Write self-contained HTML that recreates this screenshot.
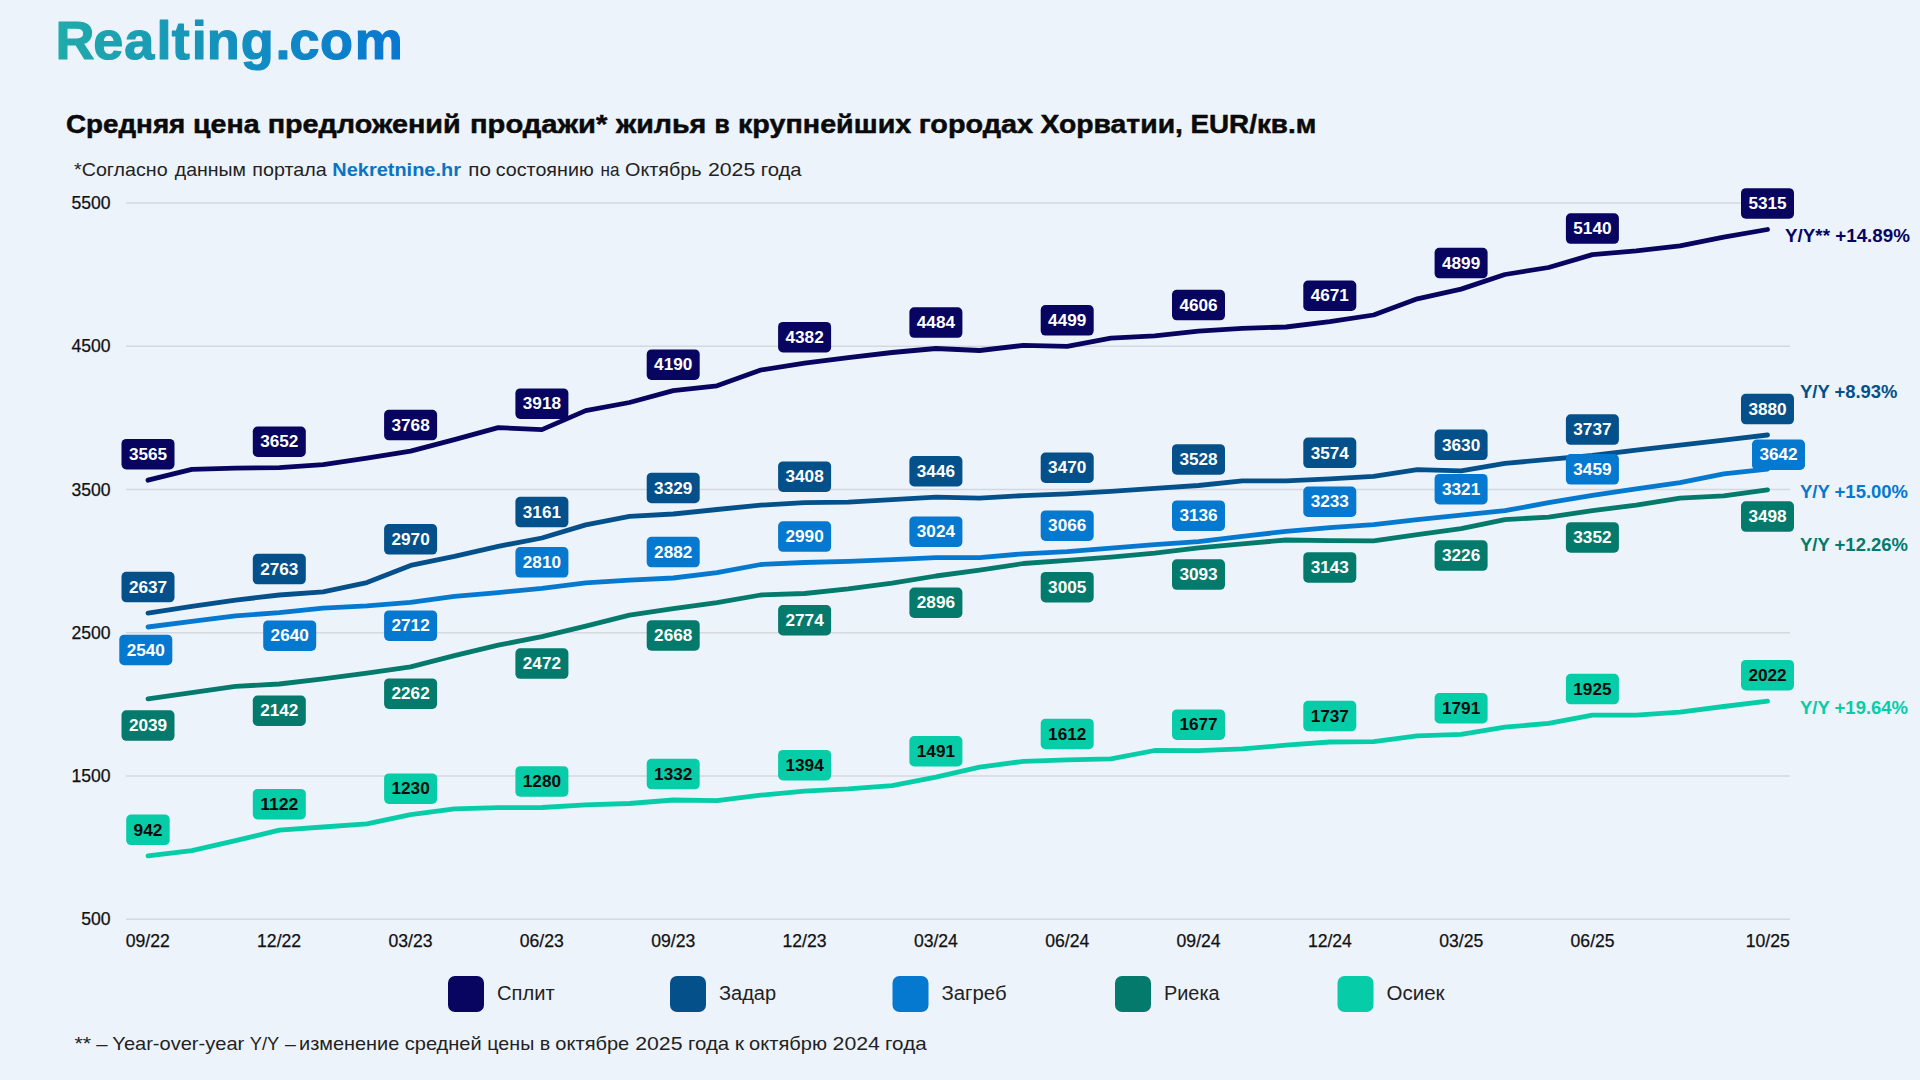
<!DOCTYPE html>
<html lang="ru"><head><meta charset="utf-8"><title>Realting.com</title>
<style>
html,body{margin:0;padding:0;background:#edf3fb;}
body{width:1920px;height:1080px;overflow:hidden;}
svg{display:block;}
text{font-family:"Liberation Sans",sans-serif;}
.ax{font-size:17.6px;fill:#111111;stroke:#111111;stroke-width:0.25px;}
.bd{font-size:16.2px;font-weight:bold;text-anchor:middle;}
.yy{font-size:17.5px;font-weight:bold;}
.lg{font-size:20px;fill:#222222;}
</style></head><body>
<svg width="1920" height="1080" viewBox="0 0 1920 1080">
<defs><linearGradient id="lg1" gradientUnits="userSpaceOnUse" x1="60" y1="0" x2="400" y2="0"><stop offset="0" stop-color="#20aaaa"/><stop offset="1" stop-color="#0877d2"/></linearGradient></defs>
<rect x="0" y="0" width="1920" height="1080" fill="#edf3fb"/>
<text x="55.6 93.3 124.2 156.6 171.8 191.7 206.8 240.8 275.6 289.6 320.0 354.7" y="59.2" font-size="54.0" font-weight="bold" fill="url(#lg1)" stroke="url(#lg1)" stroke-width="1.2" stroke-linejoin="round">Realting.com</text>
<text x="66.00" y="133.0" font-size="26" font-weight="bold" fill="#0a0a0a" textLength="119.30" lengthAdjust="spacingAndGlyphs" stroke="#0a0a0a" stroke-width="0.5" stroke-linejoin="round">Средняя</text>
<text x="193.00" y="133.0" font-size="26" font-weight="bold" fill="#0a0a0a" textLength="66.60" lengthAdjust="spacingAndGlyphs" stroke="#0a0a0a" stroke-width="0.5" stroke-linejoin="round">цена</text>
<text x="267.70" y="133.0" font-size="26" font-weight="bold" fill="#0a0a0a" textLength="192.90" lengthAdjust="spacingAndGlyphs" stroke="#0a0a0a" stroke-width="0.5" stroke-linejoin="round">предложений</text>
<text x="470.03" y="133.0" font-size="26" font-weight="bold" fill="#0a0a0a" textLength="137.34" lengthAdjust="spacingAndGlyphs" stroke="#0a0a0a" stroke-width="0.5" stroke-linejoin="round">продажи*</text>
<text x="616.00" y="133.0" font-size="26" font-weight="bold" fill="#0a0a0a" textLength="90.30" lengthAdjust="spacingAndGlyphs" stroke="#0a0a0a" stroke-width="0.5" stroke-linejoin="round">жилья</text>
<text x="714.40" y="133.0" font-size="26" font-weight="bold" fill="#0a0a0a" textLength="15.20" lengthAdjust="spacingAndGlyphs" stroke="#0a0a0a" stroke-width="0.5" stroke-linejoin="round">в</text>
<text x="738.00" y="133.0" font-size="26" font-weight="bold" fill="#0a0a0a" textLength="173.30" lengthAdjust="spacingAndGlyphs" stroke="#0a0a0a" stroke-width="0.5" stroke-linejoin="round">крупнейших</text>
<text x="918.70" y="133.0" font-size="26" font-weight="bold" fill="#0a0a0a" textLength="114.30" lengthAdjust="spacingAndGlyphs" stroke="#0a0a0a" stroke-width="0.5" stroke-linejoin="round">городах</text>
<text x="1040.40" y="133.0" font-size="26" font-weight="bold" fill="#0a0a0a" textLength="142.60" lengthAdjust="spacingAndGlyphs" stroke="#0a0a0a" stroke-width="0.5" stroke-linejoin="round">Хорватии,</text>
<text x="1190.40" y="133.0" font-size="26" font-weight="bold" fill="#0a0a0a" textLength="125.90" lengthAdjust="spacingAndGlyphs" stroke="#0a0a0a" stroke-width="0.5" stroke-linejoin="round">EUR/кв.м</text>
<text x="74.05" y="175.5" font-size="19" font-weight="normal" fill="#222222" textLength="93.60" lengthAdjust="spacingAndGlyphs">*Согласно</text>
<text x="174.75" y="175.5" font-size="19" font-weight="normal" fill="#222222" textLength="71.20" lengthAdjust="spacingAndGlyphs">данным</text>
<text x="252.35" y="175.5" font-size="19" font-weight="normal" fill="#222222" textLength="74.30" lengthAdjust="spacingAndGlyphs">портала</text>
<text x="332.35" y="175.5" font-size="19" font-weight="bold" fill="#0a74c4" textLength="128.60" lengthAdjust="spacingAndGlyphs">Nekretnine.hr</text>
<text x="468.35" y="175.5" font-size="19" font-weight="normal" fill="#222222" textLength="22.60" lengthAdjust="spacingAndGlyphs">по</text>
<text x="495.75" y="175.5" font-size="19" font-weight="normal" fill="#222222" textLength="97.90" lengthAdjust="spacingAndGlyphs">состоянию</text>
<text x="600.52" y="175.5" font-size="19" font-weight="normal" fill="#222222" textLength="18.95" lengthAdjust="spacingAndGlyphs">на</text>
<text x="625.05" y="175.5" font-size="19" font-weight="normal" fill="#222222" textLength="76.60" lengthAdjust="spacingAndGlyphs">Октябрь</text>
<text x="707.98" y="175.5" font-size="19" font-weight="normal" fill="#222222" textLength="47.33" lengthAdjust="spacingAndGlyphs">2025</text>
<text x="760.75" y="175.5" font-size="19" font-weight="normal" fill="#222222" textLength="40.90" lengthAdjust="spacingAndGlyphs">года</text>
<text x="74.57" y="1050.0" font-size="19" font-weight="normal" fill="#222222" textLength="16.57" lengthAdjust="spacingAndGlyphs">**</text>
<text x="96.35" y="1050.0" font-size="19" font-weight="normal" fill="#222222" textLength="11.30" lengthAdjust="spacingAndGlyphs">–</text>
<text x="112.35" y="1050.0" font-size="19" font-weight="normal" fill="#222222" textLength="131.90" lengthAdjust="spacingAndGlyphs">Year-over-year</text>
<text x="249.75" y="1050.0" font-size="19" font-weight="normal" fill="#222222" textLength="29.50" lengthAdjust="spacingAndGlyphs">Y/Y</text>
<text x="285.05" y="1050.0" font-size="19" font-weight="normal" fill="#222222" textLength="10.90" lengthAdjust="spacingAndGlyphs">–</text>
<text x="299.05" y="1050.0" font-size="19" font-weight="normal" fill="#222222" textLength="100.20" lengthAdjust="spacingAndGlyphs">изменение</text>
<text x="404.75" y="1050.0" font-size="19" font-weight="normal" fill="#222222" textLength="76.90" lengthAdjust="spacingAndGlyphs">средней</text>
<text x="487.35" y="1050.0" font-size="19" font-weight="normal" fill="#222222" textLength="46.90" lengthAdjust="spacingAndGlyphs">цены</text>
<text x="539.75" y="1050.0" font-size="19" font-weight="normal" fill="#222222" textLength="10.50" lengthAdjust="spacingAndGlyphs">в</text>
<text x="555.35" y="1050.0" font-size="19" font-weight="normal" fill="#222222" textLength="73.90" lengthAdjust="spacingAndGlyphs">октябре</text>
<text x="635.18" y="1050.0" font-size="19" font-weight="normal" fill="#222222" textLength="47.33" lengthAdjust="spacingAndGlyphs">2025</text>
<text x="688.05" y="1050.0" font-size="19" font-weight="normal" fill="#222222" textLength="41.20" lengthAdjust="spacingAndGlyphs">года</text>
<text x="734.85" y="1050.0" font-size="19" font-weight="normal" fill="#222222" textLength="9.31" lengthAdjust="spacingAndGlyphs">к</text>
<text x="749.05" y="1050.0" font-size="19" font-weight="normal" fill="#222222" textLength="77.90" lengthAdjust="spacingAndGlyphs">октябрю</text>
<text x="832.63" y="1050.0" font-size="19" font-weight="normal" fill="#222222" textLength="47.33" lengthAdjust="spacingAndGlyphs">2024</text>
<text x="885.05" y="1050.0" font-size="19" font-weight="normal" fill="#222222" textLength="41.60" lengthAdjust="spacingAndGlyphs">года</text>
<line x1="126" y1="203.0" x2="1790" y2="203.0" stroke="#d5d8dd" stroke-width="1.4"/>
<text class="ax" x="110.6" y="209.2" text-anchor="end">5500</text>
<line x1="126" y1="346.2" x2="1790" y2="346.2" stroke="#d5d8dd" stroke-width="1.4"/>
<text class="ax" x="110.6" y="352.4" text-anchor="end">4500</text>
<line x1="126" y1="489.5" x2="1790" y2="489.5" stroke="#d5d8dd" stroke-width="1.4"/>
<text class="ax" x="110.6" y="495.7" text-anchor="end">3500</text>
<line x1="126" y1="632.7" x2="1790" y2="632.7" stroke="#d5d8dd" stroke-width="1.4"/>
<text class="ax" x="110.6" y="638.9" text-anchor="end">2500</text>
<line x1="126" y1="776.0" x2="1790" y2="776.0" stroke="#d5d8dd" stroke-width="1.4"/>
<text class="ax" x="110.6" y="782.2" text-anchor="end">1500</text>
<line x1="126" y1="919.2" x2="1790" y2="919.2" stroke="#d5d8dd" stroke-width="1.4"/>
<text class="ax" x="110.6" y="925.4" text-anchor="end">500</text>
<text class="ax" x="147.8" y="947" text-anchor="middle">09/22</text>
<text class="ax" x="279.1" y="947" text-anchor="middle">12/22</text>
<text class="ax" x="410.5" y="947" text-anchor="middle">03/23</text>
<text class="ax" x="541.8" y="947" text-anchor="middle">06/23</text>
<text class="ax" x="673.2" y="947" text-anchor="middle">09/23</text>
<text class="ax" x="804.5" y="947" text-anchor="middle">12/23</text>
<text class="ax" x="935.9" y="947" text-anchor="middle">03/24</text>
<text class="ax" x="1067.2" y="947" text-anchor="middle">06/24</text>
<text class="ax" x="1198.6" y="947" text-anchor="middle">09/24</text>
<text class="ax" x="1329.9" y="947" text-anchor="middle">12/24</text>
<text class="ax" x="1461.3" y="947" text-anchor="middle">03/25</text>
<text class="ax" x="1592.6" y="947" text-anchor="middle">06/25</text>
<text class="ax" x="1767.8" y="947" text-anchor="middle">10/25</text>
<polyline points="148.0,480.2 191.8,469.3 235.5,468.1 279.3,467.7 323.1,464.6 366.9,458.1 410.6,451.1 454.4,439.6 498.2,427.6 541.9,429.6 585.7,410.6 629.5,402.5 673.2,390.6 717.0,385.8 760.8,370.0 804.6,363.1 848.3,357.6 892.1,352.5 935.9,348.5 979.6,350.5 1023.4,345.4 1067.2,346.4 1110.9,338.1 1154.7,335.8 1198.5,331.1 1242.3,328.3 1286.0,327.0 1329.8,321.7 1373.6,315.0 1417.3,298.8 1461.1,289.1 1504.9,274.5 1548.6,267.5 1592.4,254.6 1636.2,250.8 1680.0,245.8 1723.7,237.1 1767.5,229.5" fill="none" stroke="#07055f" stroke-width="4.8" stroke-linecap="round" stroke-linejoin="round"/>
<polyline points="148.0,613.1 191.8,606.4 235.5,600.1 279.3,595.0 323.1,591.9 366.9,582.6 410.6,565.4 454.4,556.4 498.2,546.3 541.9,538.0 585.7,524.9 629.5,516.4 673.2,514.0 717.0,509.5 760.8,505.1 804.6,502.7 848.3,502.1 892.1,499.7 935.9,497.2 979.6,498.1 1023.4,495.6 1067.2,493.8 1110.9,491.3 1154.7,488.3 1198.5,485.5 1242.3,480.9 1286.0,480.9 1329.8,478.9 1373.6,476.3 1417.3,469.6 1461.1,470.9 1504.9,463.4 1548.6,459.4 1592.4,455.5 1636.2,450.1 1680.0,445.1 1723.7,440.1 1767.5,435.0" fill="none" stroke="#04508a" stroke-width="4.8" stroke-linecap="round" stroke-linejoin="round"/>
<polyline points="148.0,627.0 191.8,621.4 235.5,615.8 279.3,612.7 323.1,608.1 366.9,605.9 410.6,602.4 454.4,596.3 498.2,592.6 541.9,588.3 585.7,582.9 629.5,580.2 673.2,578.0 717.0,572.6 760.8,564.5 804.6,562.5 848.3,561.4 892.1,559.7 935.9,557.7 979.6,557.7 1023.4,553.8 1067.2,551.6 1110.9,548.1 1154.7,544.6 1198.5,541.6 1242.3,536.3 1286.0,531.4 1329.8,527.7 1373.6,524.6 1417.3,519.6 1461.1,515.1 1504.9,510.7 1548.6,502.7 1592.4,495.4 1636.2,488.8 1680.0,482.6 1723.7,473.9 1767.5,469.1" fill="none" stroke="#0578d0" stroke-width="4.8" stroke-linecap="round" stroke-linejoin="round"/>
<polyline points="148.0,698.8 191.8,692.6 235.5,686.4 279.3,684.0 323.1,678.8 366.9,673.1 410.6,666.8 454.4,655.6 498.2,645.2 541.9,636.7 585.7,626.1 629.5,615.1 673.2,608.7 717.0,602.6 760.8,595.0 804.6,593.5 848.3,588.9 892.1,583.2 935.9,576.0 979.6,570.1 1023.4,563.5 1067.2,560.4 1110.9,557.1 1154.7,553.1 1198.5,547.8 1242.3,543.9 1286.0,540.0 1329.8,540.6 1373.6,540.9 1417.3,534.6 1461.1,528.7 1504.9,519.6 1548.6,517.1 1592.4,510.7 1636.2,505.1 1680.0,498.1 1723.7,495.8 1767.5,489.8" fill="none" stroke="#047a6c" stroke-width="4.8" stroke-linecap="round" stroke-linejoin="round"/>
<polyline points="148.0,855.9 191.8,850.7 235.5,840.7 279.3,830.1 323.1,827.0 366.9,823.9 410.6,814.6 454.4,808.9 498.2,807.6 541.9,807.5 585.7,804.8 629.5,803.5 673.2,800.0 717.0,800.7 760.8,795.2 804.6,791.1 848.3,788.9 892.1,785.7 935.9,777.2 979.6,767.2 1023.4,761.3 1067.2,759.9 1110.9,758.9 1154.7,750.5 1198.5,750.6 1242.3,748.9 1286.0,745.2 1329.8,742.0 1373.6,741.6 1417.3,735.9 1461.1,734.3 1504.9,727.1 1548.6,723.4 1592.4,715.1 1636.2,715.1 1680.0,712.2 1723.7,706.5 1767.5,701.2" fill="none" stroke="#06cca8" stroke-width="4.8" stroke-linecap="round" stroke-linejoin="round"/>
<rect x="121.5" y="438.9" width="53.0" height="30.5" rx="4.8" fill="#07055f"/>
<text class="bd" x="148.0" y="459.8" fill="#ffffff" textLength="38.2" lengthAdjust="spacingAndGlyphs">3565</text>
<rect x="252.8" y="426.5" width="53.0" height="30.5" rx="4.8" fill="#07055f"/>
<text class="bd" x="279.3" y="447.3" fill="#ffffff" textLength="38.2" lengthAdjust="spacingAndGlyphs">3652</text>
<rect x="384.1" y="409.8" width="53.0" height="30.5" rx="4.8" fill="#07055f"/>
<text class="bd" x="410.6" y="430.7" fill="#ffffff" textLength="38.2" lengthAdjust="spacingAndGlyphs">3768</text>
<rect x="515.4" y="388.4" width="53.0" height="30.5" rx="4.8" fill="#07055f"/>
<text class="bd" x="541.9" y="409.2" fill="#ffffff" textLength="38.2" lengthAdjust="spacingAndGlyphs">3918</text>
<rect x="646.7" y="349.4" width="53.0" height="30.5" rx="4.8" fill="#07055f"/>
<text class="bd" x="673.2" y="370.2" fill="#ffffff" textLength="38.2" lengthAdjust="spacingAndGlyphs">4190</text>
<rect x="778.1" y="321.9" width="53.0" height="30.5" rx="4.8" fill="#07055f"/>
<text class="bd" x="804.6" y="342.7" fill="#ffffff" textLength="38.2" lengthAdjust="spacingAndGlyphs">4382</text>
<rect x="909.4" y="307.3" width="53.0" height="30.5" rx="4.8" fill="#07055f"/>
<text class="bd" x="935.9" y="328.1" fill="#ffffff" textLength="38.2" lengthAdjust="spacingAndGlyphs">4484</text>
<rect x="1040.7" y="305.1" width="53.0" height="30.5" rx="4.8" fill="#07055f"/>
<text class="bd" x="1067.2" y="326.0" fill="#ffffff" textLength="38.2" lengthAdjust="spacingAndGlyphs">4499</text>
<rect x="1172.0" y="289.8" width="53.0" height="30.5" rx="4.8" fill="#07055f"/>
<text class="bd" x="1198.5" y="310.7" fill="#ffffff" textLength="38.2" lengthAdjust="spacingAndGlyphs">4606</text>
<rect x="1303.3" y="280.5" width="53.0" height="30.5" rx="4.8" fill="#07055f"/>
<text class="bd" x="1329.8" y="301.3" fill="#ffffff" textLength="38.2" lengthAdjust="spacingAndGlyphs">4671</text>
<rect x="1434.6" y="247.8" width="53.0" height="30.5" rx="4.8" fill="#07055f"/>
<text class="bd" x="1461.1" y="268.7" fill="#ffffff" textLength="38.2" lengthAdjust="spacingAndGlyphs">4899</text>
<rect x="1565.9" y="213.3" width="53.0" height="30.5" rx="4.8" fill="#07055f"/>
<text class="bd" x="1592.4" y="234.2" fill="#ffffff" textLength="38.2" lengthAdjust="spacingAndGlyphs">5140</text>
<rect x="1741.0" y="188.2" width="53.0" height="30.5" rx="4.8" fill="#07055f"/>
<text class="bd" x="1767.5" y="209.1" fill="#ffffff" textLength="38.2" lengthAdjust="spacingAndGlyphs">5315</text>
<rect x="121.5" y="571.8" width="53.0" height="30.5" rx="4.8" fill="#04508a"/>
<text class="bd" x="148.0" y="592.7" fill="#ffffff" textLength="38.2" lengthAdjust="spacingAndGlyphs">2637</text>
<rect x="252.8" y="553.8" width="53.0" height="30.5" rx="4.8" fill="#04508a"/>
<text class="bd" x="279.3" y="574.6" fill="#ffffff" textLength="38.2" lengthAdjust="spacingAndGlyphs">2763</text>
<rect x="384.1" y="524.1" width="53.0" height="30.5" rx="4.8" fill="#04508a"/>
<text class="bd" x="410.6" y="545.0" fill="#ffffff" textLength="38.2" lengthAdjust="spacingAndGlyphs">2970</text>
<rect x="515.4" y="496.8" width="53.0" height="30.5" rx="4.8" fill="#04508a"/>
<text class="bd" x="541.9" y="517.6" fill="#ffffff" textLength="38.2" lengthAdjust="spacingAndGlyphs">3161</text>
<rect x="646.7" y="472.7" width="53.0" height="30.5" rx="4.8" fill="#04508a"/>
<text class="bd" x="673.2" y="493.6" fill="#ffffff" textLength="38.2" lengthAdjust="spacingAndGlyphs">3329</text>
<rect x="778.1" y="461.4" width="53.0" height="30.5" rx="4.8" fill="#04508a"/>
<text class="bd" x="804.6" y="482.3" fill="#ffffff" textLength="38.2" lengthAdjust="spacingAndGlyphs">3408</text>
<rect x="909.4" y="456.0" width="53.0" height="30.5" rx="4.8" fill="#04508a"/>
<text class="bd" x="935.9" y="476.8" fill="#ffffff" textLength="38.2" lengthAdjust="spacingAndGlyphs">3446</text>
<rect x="1040.7" y="452.5" width="53.0" height="30.5" rx="4.8" fill="#04508a"/>
<text class="bd" x="1067.2" y="473.4" fill="#ffffff" textLength="38.2" lengthAdjust="spacingAndGlyphs">3470</text>
<rect x="1172.0" y="444.2" width="53.0" height="30.5" rx="4.8" fill="#04508a"/>
<text class="bd" x="1198.5" y="465.1" fill="#ffffff" textLength="38.2" lengthAdjust="spacingAndGlyphs">3528</text>
<rect x="1303.3" y="437.6" width="53.0" height="30.5" rx="4.8" fill="#04508a"/>
<text class="bd" x="1329.8" y="458.5" fill="#ffffff" textLength="38.2" lengthAdjust="spacingAndGlyphs">3574</text>
<rect x="1434.6" y="429.6" width="53.0" height="30.5" rx="4.8" fill="#04508a"/>
<text class="bd" x="1461.1" y="450.5" fill="#ffffff" textLength="38.2" lengthAdjust="spacingAndGlyphs">3630</text>
<rect x="1565.9" y="414.3" width="53.0" height="30.5" rx="4.8" fill="#04508a"/>
<text class="bd" x="1592.4" y="435.1" fill="#ffffff" textLength="38.2" lengthAdjust="spacingAndGlyphs">3737</text>
<rect x="1741.0" y="393.8" width="53.0" height="30.5" rx="4.8" fill="#04508a"/>
<text class="bd" x="1767.5" y="414.6" fill="#ffffff" textLength="38.2" lengthAdjust="spacingAndGlyphs">3880</text>
<rect x="119.3" y="634.7" width="53.0" height="30.5" rx="4.8" fill="#0578d0"/>
<text class="bd" x="145.8" y="655.6" fill="#ffffff" textLength="38.2" lengthAdjust="spacingAndGlyphs">2540</text>
<rect x="263.2" y="620.4" width="53.0" height="30.5" rx="4.8" fill="#0578d0"/>
<text class="bd" x="289.7" y="641.3" fill="#ffffff" textLength="38.2" lengthAdjust="spacingAndGlyphs">2640</text>
<rect x="384.1" y="610.4" width="53.0" height="30.5" rx="4.8" fill="#0578d0"/>
<text class="bd" x="410.6" y="631.3" fill="#ffffff" textLength="38.2" lengthAdjust="spacingAndGlyphs">2712</text>
<rect x="515.4" y="547.1" width="53.0" height="30.5" rx="4.8" fill="#0578d0"/>
<text class="bd" x="541.9" y="567.9" fill="#ffffff" textLength="38.2" lengthAdjust="spacingAndGlyphs">2810</text>
<rect x="646.7" y="536.8" width="53.0" height="30.5" rx="4.8" fill="#0578d0"/>
<text class="bd" x="673.2" y="557.6" fill="#ffffff" textLength="38.2" lengthAdjust="spacingAndGlyphs">2882</text>
<rect x="778.1" y="521.3" width="53.0" height="30.5" rx="4.8" fill="#0578d0"/>
<text class="bd" x="804.6" y="542.1" fill="#ffffff" textLength="38.2" lengthAdjust="spacingAndGlyphs">2990</text>
<rect x="909.4" y="516.4" width="53.0" height="30.5" rx="4.8" fill="#0578d0"/>
<text class="bd" x="935.9" y="537.3" fill="#ffffff" textLength="38.2" lengthAdjust="spacingAndGlyphs">3024</text>
<rect x="1040.7" y="510.4" width="53.0" height="30.5" rx="4.8" fill="#0578d0"/>
<text class="bd" x="1067.2" y="531.2" fill="#ffffff" textLength="38.2" lengthAdjust="spacingAndGlyphs">3066</text>
<rect x="1172.0" y="500.4" width="53.0" height="30.5" rx="4.8" fill="#0578d0"/>
<text class="bd" x="1198.5" y="521.2" fill="#ffffff" textLength="38.2" lengthAdjust="spacingAndGlyphs">3136</text>
<rect x="1303.3" y="486.5" width="53.0" height="30.5" rx="4.8" fill="#0578d0"/>
<text class="bd" x="1329.8" y="507.3" fill="#ffffff" textLength="38.2" lengthAdjust="spacingAndGlyphs">3233</text>
<rect x="1434.6" y="473.9" width="53.0" height="30.5" rx="4.8" fill="#0578d0"/>
<text class="bd" x="1461.1" y="494.7" fill="#ffffff" textLength="38.2" lengthAdjust="spacingAndGlyphs">3321</text>
<rect x="1565.9" y="454.1" width="53.0" height="30.5" rx="4.8" fill="#0578d0"/>
<text class="bd" x="1592.4" y="475.0" fill="#ffffff" textLength="38.2" lengthAdjust="spacingAndGlyphs">3459</text>
<rect x="1752.0" y="439.5" width="53.0" height="30.5" rx="4.8" fill="#0578d0"/>
<text class="bd" x="1778.5" y="460.3" fill="#ffffff" textLength="38.2" lengthAdjust="spacingAndGlyphs">3642</text>
<rect x="121.5" y="710.3" width="53.0" height="30.5" rx="4.8" fill="#047a6c"/>
<text class="bd" x="148.0" y="731.2" fill="#ffffff" textLength="38.2" lengthAdjust="spacingAndGlyphs">2039</text>
<rect x="252.8" y="695.5" width="53.0" height="30.5" rx="4.8" fill="#047a6c"/>
<text class="bd" x="279.3" y="716.4" fill="#ffffff" textLength="38.2" lengthAdjust="spacingAndGlyphs">2142</text>
<rect x="384.1" y="678.4" width="53.0" height="30.5" rx="4.8" fill="#047a6c"/>
<text class="bd" x="410.6" y="699.2" fill="#ffffff" textLength="38.2" lengthAdjust="spacingAndGlyphs">2262</text>
<rect x="515.4" y="648.3" width="53.0" height="30.5" rx="4.8" fill="#047a6c"/>
<text class="bd" x="541.9" y="669.1" fill="#ffffff" textLength="38.2" lengthAdjust="spacingAndGlyphs">2472</text>
<rect x="646.7" y="620.2" width="53.0" height="30.5" rx="4.8" fill="#047a6c"/>
<text class="bd" x="673.2" y="641.1" fill="#ffffff" textLength="38.2" lengthAdjust="spacingAndGlyphs">2668</text>
<rect x="778.1" y="605.0" width="53.0" height="30.5" rx="4.8" fill="#047a6c"/>
<text class="bd" x="804.6" y="625.9" fill="#ffffff" textLength="38.2" lengthAdjust="spacingAndGlyphs">2774</text>
<rect x="909.4" y="587.5" width="53.0" height="30.5" rx="4.8" fill="#047a6c"/>
<text class="bd" x="935.9" y="608.4" fill="#ffffff" textLength="38.2" lengthAdjust="spacingAndGlyphs">2896</text>
<rect x="1040.7" y="571.9" width="53.0" height="30.5" rx="4.8" fill="#047a6c"/>
<text class="bd" x="1067.2" y="592.8" fill="#ffffff" textLength="38.2" lengthAdjust="spacingAndGlyphs">3005</text>
<rect x="1172.0" y="559.3" width="53.0" height="30.5" rx="4.8" fill="#047a6c"/>
<text class="bd" x="1198.5" y="580.2" fill="#ffffff" textLength="38.2" lengthAdjust="spacingAndGlyphs">3093</text>
<rect x="1303.3" y="552.2" width="53.0" height="30.5" rx="4.8" fill="#047a6c"/>
<text class="bd" x="1329.8" y="573.0" fill="#ffffff" textLength="38.2" lengthAdjust="spacingAndGlyphs">3143</text>
<rect x="1434.6" y="540.3" width="53.0" height="30.5" rx="4.8" fill="#047a6c"/>
<text class="bd" x="1461.1" y="561.1" fill="#ffffff" textLength="38.2" lengthAdjust="spacingAndGlyphs">3226</text>
<rect x="1565.9" y="522.2" width="53.0" height="30.5" rx="4.8" fill="#047a6c"/>
<text class="bd" x="1592.4" y="543.1" fill="#ffffff" textLength="38.2" lengthAdjust="spacingAndGlyphs">3352</text>
<rect x="1741.0" y="501.3" width="53.0" height="30.5" rx="4.8" fill="#047a6c"/>
<text class="bd" x="1767.5" y="522.2" fill="#ffffff" textLength="38.2" lengthAdjust="spacingAndGlyphs">3498</text>
<rect x="126.2" y="814.6" width="43.5" height="30.5" rx="4.8" fill="#06cca8"/>
<text class="bd" x="148.0" y="835.5" fill="#0a0a0a" textLength="28.8" lengthAdjust="spacingAndGlyphs">942</text>
<rect x="252.8" y="788.9" width="53.0" height="30.5" rx="4.8" fill="#06cca8"/>
<text class="bd" x="279.3" y="809.7" fill="#0a0a0a" textLength="38.2" lengthAdjust="spacingAndGlyphs">1122</text>
<rect x="384.1" y="773.4" width="53.0" height="30.5" rx="4.8" fill="#06cca8"/>
<text class="bd" x="410.6" y="794.2" fill="#0a0a0a" textLength="38.2" lengthAdjust="spacingAndGlyphs">1230</text>
<rect x="515.4" y="766.2" width="53.0" height="30.5" rx="4.8" fill="#06cca8"/>
<text class="bd" x="541.9" y="787.1" fill="#0a0a0a" textLength="38.2" lengthAdjust="spacingAndGlyphs">1280</text>
<rect x="646.7" y="758.8" width="53.0" height="30.5" rx="4.8" fill="#06cca8"/>
<text class="bd" x="673.2" y="779.6" fill="#0a0a0a" textLength="38.2" lengthAdjust="spacingAndGlyphs">1332</text>
<rect x="778.1" y="749.9" width="53.0" height="30.5" rx="4.8" fill="#06cca8"/>
<text class="bd" x="804.6" y="770.7" fill="#0a0a0a" textLength="38.2" lengthAdjust="spacingAndGlyphs">1394</text>
<rect x="909.4" y="736.0" width="53.0" height="30.5" rx="4.8" fill="#06cca8"/>
<text class="bd" x="935.9" y="756.8" fill="#0a0a0a" textLength="38.2" lengthAdjust="spacingAndGlyphs">1491</text>
<rect x="1040.7" y="718.7" width="53.0" height="30.5" rx="4.8" fill="#06cca8"/>
<text class="bd" x="1067.2" y="739.5" fill="#0a0a0a" textLength="38.2" lengthAdjust="spacingAndGlyphs">1612</text>
<rect x="1172.0" y="709.4" width="53.0" height="30.5" rx="4.8" fill="#06cca8"/>
<text class="bd" x="1198.5" y="730.2" fill="#0a0a0a" textLength="38.2" lengthAdjust="spacingAndGlyphs">1677</text>
<rect x="1303.3" y="700.8" width="53.0" height="30.5" rx="4.8" fill="#06cca8"/>
<text class="bd" x="1329.8" y="721.6" fill="#0a0a0a" textLength="38.2" lengthAdjust="spacingAndGlyphs">1737</text>
<rect x="1434.6" y="693.0" width="53.0" height="30.5" rx="4.8" fill="#06cca8"/>
<text class="bd" x="1461.1" y="713.9" fill="#0a0a0a" textLength="38.2" lengthAdjust="spacingAndGlyphs">1791</text>
<rect x="1565.9" y="673.8" width="53.0" height="30.5" rx="4.8" fill="#06cca8"/>
<text class="bd" x="1592.4" y="694.7" fill="#0a0a0a" textLength="38.2" lengthAdjust="spacingAndGlyphs">1925</text>
<rect x="1741.0" y="659.9" width="53.0" height="30.5" rx="4.8" fill="#06cca8"/>
<text class="bd" x="1767.5" y="680.8" fill="#0a0a0a" textLength="38.2" lengthAdjust="spacingAndGlyphs">2022</text>
<text class="yy" x="1785.0" y="242.0" fill="#07055f" textLength="125.0" lengthAdjust="spacingAndGlyphs">Y/Y** +14.89%</text>
<text class="yy" x="1800.0" y="398.0" fill="#04508a" textLength="97.5" lengthAdjust="spacingAndGlyphs">Y/Y +8.93%</text>
<text class="yy" x="1800.0" y="497.5" fill="#0578d0" textLength="108.0" lengthAdjust="spacingAndGlyphs">Y/Y +15.00%</text>
<text class="yy" x="1800.0" y="551.2" fill="#047a6c" textLength="108.0" lengthAdjust="spacingAndGlyphs">Y/Y +12.26%</text>
<text class="yy" x="1800.0" y="713.8" fill="#06cca8" textLength="108.0" lengthAdjust="spacingAndGlyphs">Y/Y +19.64%</text>
<rect x="448.0" y="976" width="36" height="36" rx="7" fill="#07055f"/>
<text class="lg" x="497.0" y="1000.4" textLength="57.6" lengthAdjust="spacingAndGlyphs">Сплит</text>
<rect x="670.0" y="976" width="36" height="36" rx="7" fill="#04508a"/>
<text class="lg" x="719.0" y="1000.4" textLength="57.1" lengthAdjust="spacingAndGlyphs">Задар</text>
<rect x="892.5" y="976" width="36" height="36" rx="7" fill="#0578d0"/>
<text class="lg" x="941.5" y="1000.4" textLength="65.1" lengthAdjust="spacingAndGlyphs">Загреб</text>
<rect x="1115.0" y="976" width="36" height="36" rx="7" fill="#047a6c"/>
<text class="lg" x="1164.0" y="1000.4" textLength="55.6" lengthAdjust="spacingAndGlyphs">Риека</text>
<rect x="1337.5" y="976" width="36" height="36" rx="7" fill="#06cca8"/>
<text class="lg" x="1386.5" y="1000.4" textLength="58.1" lengthAdjust="spacingAndGlyphs">Осиек</text>
</svg></body></html>
